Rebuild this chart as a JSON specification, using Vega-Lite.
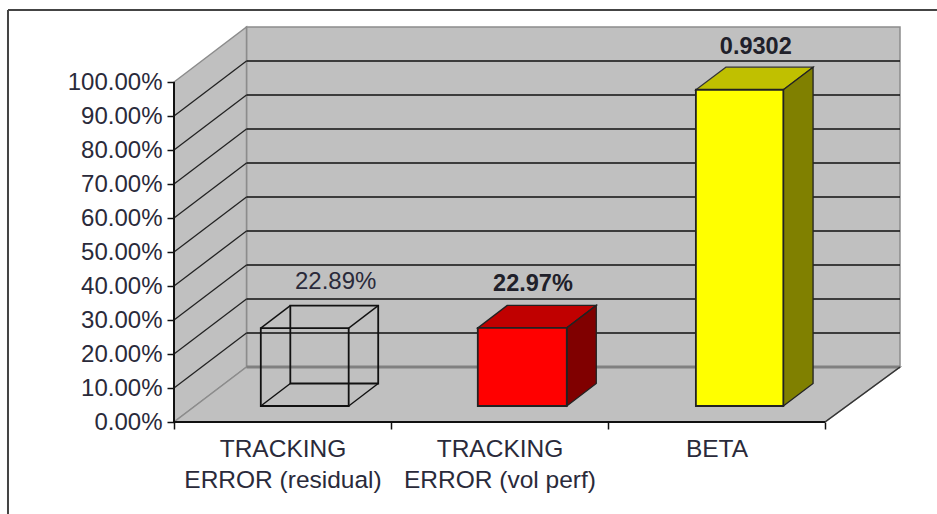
{"$schema":"https://vega.github.io/schema/vega-lite/v6.json","width":726,"height":395,"autosize":{"type":"none"},"padding":{"left":174,"top":27,"right":37,"bottom":92},"background":"white","view":{"stroke":null},"config":{"font":"Liberation Sans"},
"data":{"values":[
{"part":"frameLeft","x":-0.765,"y":-27.06,"y2":121.18},
{"part":"frameTop","x":-0.765,"x2":3.516,"y":121.18},
{"part":"backWall","x":0.3341,"x2":3.3456,"y":16.18,"y2":116.18},
{"part":"sideWall","x":0,"y":0,"y2":100},
{"part":"sideWall","x":0.3341,"y":16.18,"y2":116.18},
{"part":"floor","x":0,"x2":3,"y":0},
{"part":"floor","x":0.3341,"x2":3.3456,"y":16.18},
{"part":"floorEdge","x":3,"y":0},
{"part":"floorEdge","x":3.3456,"y":16.18},
{"part":"floorBack","x":0.3341,"x2":3.3456,"y":16.18},
{"part":"grid","x":0.3341,"x2":3.3456,"y":26.18},
{"part":"grid","x":0.3341,"x2":3.3456,"y":36.18},
{"part":"grid","x":0.3341,"x2":3.3456,"y":46.18},
{"part":"grid","x":0.3341,"x2":3.3456,"y":56.18},
{"part":"grid","x":0.3341,"x2":3.3456,"y":66.18},
{"part":"grid","x":0.3341,"x2":3.3456,"y":76.18},
{"part":"grid","x":0.3341,"x2":3.3456,"y":86.18},
{"part":"grid","x":0.3341,"x2":3.3456,"y":96.18},
{"part":"grid","x":0.3341,"x2":3.3456,"y":106.18},
{"part":"sideGrid","k":10,"x":0,"y":10},{"part":"sideGrid","k":10,"x":0.3341,"y":26.18},
{"part":"sideGrid","k":20,"x":0,"y":20},{"part":"sideGrid","k":20,"x":0.3341,"y":36.18},
{"part":"sideGrid","k":30,"x":0,"y":30},{"part":"sideGrid","k":30,"x":0.3341,"y":46.18},
{"part":"sideGrid","k":40,"x":0,"y":40},{"part":"sideGrid","k":40,"x":0.3341,"y":56.18},
{"part":"sideGrid","k":50,"x":0,"y":50},{"part":"sideGrid","k":50,"x":0.3341,"y":66.18},
{"part":"sideGrid","k":60,"x":0,"y":60},{"part":"sideGrid","k":60,"x":0.3341,"y":76.18},
{"part":"sideGrid","k":70,"x":0,"y":70},{"part":"sideGrid","k":70,"x":0.3341,"y":86.18},
{"part":"sideGrid","k":80,"x":0,"y":80},{"part":"sideGrid","k":80,"x":0.3341,"y":96.18},
{"part":"sideGrid","k":90,"x":0,"y":90},{"part":"sideGrid","k":90,"x":0.3341,"y":106.18},
{"part":"wireRect","x":0.536,"x2":0.941,"y":11.33,"y2":34.22},
{"part":"wireRect","x":0.40,"x2":0.805,"y":4.71,"y2":27.60},
{"part":"wireEdge","k":1,"x":0.40,"y":4.71},{"part":"wireEdge","k":1,"x":0.536,"y":11.33},
{"part":"wireEdge","k":2,"x":0.805,"y":4.71},{"part":"wireEdge","k":2,"x":0.941,"y":11.33},
{"part":"wireEdge","k":3,"x":0.40,"y":27.60},{"part":"wireEdge","k":3,"x":0.536,"y":34.22},
{"part":"wireEdge","k":4,"x":0.805,"y":27.60},{"part":"wireEdge","k":4,"x":0.941,"y":34.22},
{"part":"redTop","x":1.40,"x2":1.81,"y":27.68},{"part":"redTop","x":1.536,"x2":1.946,"y":34.30},
{"part":"redSide","x":1.81,"y":4.71,"y2":27.68},{"part":"redSide","x":1.946,"y":11.33,"y2":34.30},
{"part":"redFront","x":1.40,"x2":1.81,"y":4.71,"y2":27.68},
{"part":"yellowTop","x":2.405,"x2":2.808,"y":97.73},{"part":"yellowTop","x":2.543,"x2":2.945,"y":104.35},
{"part":"yellowSide","x":2.808,"y":4.71,"y2":97.73},{"part":"yellowSide","x":2.945,"y":11.33,"y2":104.35},
{"part":"yellowFront","x":2.405,"x2":2.808,"y":4.71,"y2":97.73},
{"part":"labelPlain","x":0.745,"y":41.26,"label":"22.89%"},
{"part":"labelBold","x":1.654,"y":40.59,"label":"22.97%"},
{"part":"labelBold","x":2.681,"y":110.4,"label":"0.9302"}
]},
"encoding":{
"x":{"field":"x","type":"quantitative","title":null,"scale":{"domain":[0,3.3456],"nice":false,"zero":false},"axis":{"zindex":1,"grid":false,"orient":"bottom","values":[0,0.5,1,1.5,2,2.5,3],"domain":false,"tickColor":"#111","tickWidth":1.5,"tickSize":7,"tickOpacity":{"condition":{"test":"datum.value % 1 == 0","value":1},"value":0},"labelExpr":"datum.value==0.5?['TRACKING','ERROR (residual)']:datum.value==1.5?['TRACKING','ERROR (vol perf)']:datum.value==2.5?['BETA']:''","labelFont":"Liberation Sans","labelFontSize":24.5,"labelColor":"#2a2a3a","labelLineHeight":31,"labelPadding":8,"labelLimit":400,"labelOverlap":false,"labelFlush":false}},
"y":{"field":"y","type":"quantitative","title":null,"scale":{"domain":[0,116.18],"nice":false,"zero":false},"axis":{"zindex":1,"grid":false,"orient":"left","values":[0,10,20,30,40,50,60,70,80,90,100],"domain":false,"tickColor":"#111","tickWidth":1.5,"tickSize":7,"labelExpr":"format(datum.value,'.2f')+'%'","labelFont":"Liberation Sans","labelFontSize":24,"labelColor":"#2a2a3a","labelPadding":5,"labelOverlap":false}}
},
"layer":[
{"transform":[{"filter":"datum.part=='frameLeft'"}],"mark":{"type":"rule","color":"#444","strokeWidth":2},"encoding":{"y2":{"field":"y2"}}},
{"transform":[{"filter":"datum.part=='frameTop'"}],"mark":{"type":"rule","color":"#444","strokeWidth":2},"encoding":{"x2":{"field":"x2"}}},
{"transform":[{"filter":"datum.part=='backWall'"}],"mark":{"type":"rect","fill":"#c0c0c0","stroke":"#8c8c8c","strokeWidth":1.5},"encoding":{"x2":{"field":"x2"},"y2":{"field":"y2"}}},
{"transform":[{"filter":"datum.part=='sideWall'"}],"mark":{"type":"area","orient":"vertical","fill":"#c0c0c0","stroke":"#8c8c8c","strokeWidth":1.5},"encoding":{"y2":{"field":"y2"}}},
{"transform":[{"filter":"datum.part=='floor'"}],"mark":{"type":"area","orient":"horizontal","fill":"#c0c0c0","stroke":"#8c8c8c","strokeWidth":1.5},"encoding":{"x2":{"field":"x2"}}},
{"transform":[{"filter":"datum.part=='floorBack'"}],"mark":{"type":"rule","color":"#808080","strokeWidth":3},"encoding":{"x2":{"field":"x2"}}},
{"transform":[{"filter":"datum.part=='floorEdge'"}],"mark":{"type":"line","color":"#333","strokeWidth":1.5}},
{"transform":[{"filter":"datum.part=='grid'"}],"mark":{"type":"rule","color":"#111","strokeWidth":1.6},"encoding":{"x2":{"field":"x2"}}},
{"transform":[{"filter":"datum.part=='sideGrid'"}],"mark":{"type":"line","color":"#222","strokeWidth":1.3},"encoding":{"detail":{"field":"k"}}},
{"transform":[{"filter":"datum.part=='wireRect'"}],"mark":{"type":"rect","fill":"transparent","stroke":"#111","strokeWidth":1.8},"encoding":{"x2":{"field":"x2"},"y2":{"field":"y2"}}},
{"transform":[{"filter":"datum.part=='wireEdge'"}],"mark":{"type":"line","color":"#111","strokeWidth":1.4},"encoding":{"detail":{"field":"k"}}},
{"transform":[{"filter":"datum.part=='redTop'"}],"mark":{"type":"area","orient":"horizontal","fill":"#c00000","stroke":"#222","strokeWidth":1.3},"encoding":{"x2":{"field":"x2"}}},
{"transform":[{"filter":"datum.part=='redSide'"}],"mark":{"type":"area","orient":"vertical","fill":"#800000","stroke":"#222","strokeWidth":1.3},"encoding":{"y2":{"field":"y2"}}},
{"transform":[{"filter":"datum.part=='redFront'"}],"mark":{"type":"rect","fill":"#ff0000","stroke":"#222","strokeWidth":1.8},"encoding":{"x2":{"field":"x2"},"y2":{"field":"y2"}}},
{"transform":[{"filter":"datum.part=='yellowTop'"}],"mark":{"type":"area","orient":"horizontal","fill":"#c0c000","stroke":"#333","strokeWidth":1.3},"encoding":{"x2":{"field":"x2"}}},
{"transform":[{"filter":"datum.part=='yellowSide'"}],"mark":{"type":"area","orient":"vertical","fill":"#808000","stroke":"#222","strokeWidth":1.3},"encoding":{"y2":{"field":"y2"}}},
{"transform":[{"filter":"datum.part=='yellowFront'"}],"mark":{"type":"rect","fill":"#ffff00","stroke":"#222","strokeWidth":1.8},"encoding":{"x2":{"field":"x2"},"y2":{"field":"y2"}}},
{"transform":[{"filter":"datum.part=='labelPlain'"}],"mark":{"type":"text","font":"Liberation Sans","fontSize":24,"color":"#2a2a3a","baseline":"middle","align":"center"},"encoding":{"text":{"field":"label"}}},
{"transform":[{"filter":"datum.part=='labelBold'"}],"mark":{"type":"text","font":"Liberation Sans","fontSize":23.5,"fontWeight":"bold","color":"#20202a","baseline":"middle","align":"center"},"encoding":{"text":{"field":"label"}}},
{"transform":[{"filter":"datum.part=='axisY'"}],"mark":{"type":"rule","color":"#111","strokeWidth":2},"encoding":{"y2":{"field":"y2"}},"data":{"values":[{"part":"axisY","x":0,"y":0,"y2":100}]}},
{"transform":[{"filter":"datum.part=='axisX'"}],"mark":{"type":"rule","color":"#111","strokeWidth":2},"encoding":{"x2":{"field":"x2"}},"data":{"values":[{"part":"axisX","x":0,"x2":3,"y":0}]}}
]}
